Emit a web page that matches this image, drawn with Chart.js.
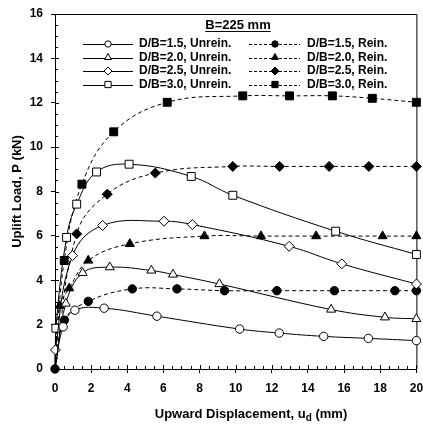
<!DOCTYPE html>
<html>
<head>
<meta charset="utf-8">
<script src="https://cdn.jsdelivr.net/npm/chart.js@4.4.0/dist/chart.umd.min.js"></script>
<style>
  body { margin: 0; background: #fff; }
  #wrap { width: 423px; height: 426px; position: relative; }
</style>
</head>
<body>
<div id="wrap"><canvas id="upliftChart"></canvas></div>
<script>
// [displacement mm, load kN]
const unrein15 = [[0,0],[0.45,1.9],[1.1,2.65],[2.72,2.74],[5.64,2.38],[10.22,1.80],[12.41,1.62],[14.87,1.47],[17.34,1.38],[20,1.28]];
const unrein20 = [[0,0],[0.6,2.95],[1.53,4.33],[3.03,4.59],[5.33,4.44],[6.53,4.26],[9.1,3.83],[15.28,2.68],[18.26,2.33],[20,2.26]];
const unrein25 = [[0,0],[0.02,0.86],[0.97,5.11],[2.63,6.47],[6.03,6.66],[7.6,6.51],[12.96,5.53],[15.87,4.74],[20,3.83]];
const unrein30 = [[0,0],[0.05,1.84],[0.64,5.93],[1.2,7.43],[2.3,8.88],[4.1,9.23],[7.54,8.68],[9.84,7.83],[15.53,6.21],[20,5.16]];
const rein15 = [[0,0],[0.52,2.2],[1.84,3.05],[4.28,3.61],[6.75,3.61],[9.38,3.53],[12.28,3.53],[15.46,3.53],[18.81,3.53],[20,3.53]];
const rein20 = [[0,0],[0.26,2.85],[0.79,3.64],[1.84,4.89],[4.14,5.64],[8.27,5.99],[11.4,5.99],[14.45,5.99],[18.13,5.99],[20,5.99]];
const rein25 = [[0,0],[1.2,6.09],[2.89,7.88],[5.55,8.83],[9.84,9.13],[12.43,9.13],[15.17,9.13],[17.37,9.13],[20,9.13]];
const rein30 = [[0,0],[0.51,4.89],[1.49,8.33],[3.25,10.69],[6.21,12.02],[10.39,12.31],[12.98,12.31],[15.35,12.31],[17.56,12.2],[20,12.02]];

const unreinLabels = ['D/B=1.5, Unrein.', 'D/B=2.0, Unrein.', 'D/B=2.5, Unrein.', 'D/B=3.0, Unrein.'];
const reinLabels = ['D/B=1.5, Rein.', 'D/B=2.0, Rein.', 'D/B=2.5, Rein.', 'D/B=3.0, Rein.'];
const markerStyles = ['circle', 'triangle', 'rectRot', 'rect'];
const markerSizes = [4.2, 5.2, 5, 5.6];

const xTickValues = [0, 2, 4, 6, 8, 10, 12, 14, 16, 18, 20];
const yTickValues = [0, 2, 4, 6, 8, 10, 12, 14, 16];

const titleText = 'B=225 mm';
const FONT = '"Liberation Sans", Arial, sans-serif';

function makeSet(points, i, reinforced) {
  return {
    label: reinforced ? reinLabels[i] : unreinLabels[i],
    data: points.map(p => ({ x: p[0], y: p[1] })),
    showLine: true,
    borderColor: '#000',
    borderWidth: 1,
    borderDash: reinforced ? [4, 3] : [],
    tension: 0.4,
    pointStyle: markerStyles[i],
    pointRadius: ctx => (ctx.dataIndex === 0 && !(reinforced && i === 0)) ? 0 : markerSizes[i],
    pointBackgroundColor: reinforced ? '#000' : '#fff',
    pointBorderColor: '#000',
    pointBorderWidth: 1,
    clip: false
  };
}

function drawMarker(ctx, style, x, y, r, filled) {
  ctx.save();
  ctx.beginPath();
  if (style === 'circle') {
    ctx.arc(x, y, r, 0, Math.PI * 2);
  } else if (style === 'triangle') {
    ctx.moveTo(x, y - r);
    ctx.lineTo(x + r * 0.866, y + r * 0.5);
    ctx.lineTo(x - r * 0.866, y + r * 0.5);
    ctx.closePath();
  } else if (style === 'rectRot') {
    ctx.moveTo(x, y - r);
    ctx.lineTo(x + r, y);
    ctx.lineTo(x, y + r);
    ctx.lineTo(x - r, y);
    ctx.closePath();
  } else {
    const s = r * Math.SQRT1_2;
    ctx.rect(x - s, y - s, 2 * s, 2 * s);
  }
  ctx.fillStyle = filled ? '#000' : '#fff';
  ctx.fill();
  ctx.strokeStyle = '#000';
  ctx.lineWidth = 1;
  ctx.stroke();
  ctx.restore();
}

const frameAndTicks = {
  id: 'frameAndTicks',
  beforeDatasetsDraw(chart) {
    const { ctx, chartArea: a, scales: { x, y } } = chart;
    ctx.save();
    ctx.strokeStyle = '#000';
    ctx.lineWidth = 1;
    ctx.beginPath();
    ctx.moveTo(a.left, a.top + 0.5);
    ctx.lineTo(a.right + 0.5, a.top + 0.5);
    ctx.lineTo(a.right + 0.5, a.bottom);
    // inside ticks on x axis
    for (let v = 0; v <= 20.001; v += 0.5) {
      const px = Math.round(x.getPixelForValue(v)) + 0.5;
      const major = Math.abs(v % 2) < 0.01;
      ctx.moveTo(px, a.bottom);
      ctx.lineTo(px, a.bottom - (major ? 4 : 3));
    }
    // inside ticks on y axis
    for (let v = 0; v <= 16.001; v += 0.5) {
      const py = Math.round(y.getPixelForValue(v)) + 0.5;
      const major = Math.abs(v % 2) < 0.01;
      ctx.moveTo(a.left, py);
      ctx.lineTo(a.left + (major ? 4 : 3), py);
    }
    ctx.stroke();
    ctx.restore();
  },
  afterDraw(chart) {
    const { ctx, chartArea: a } = chart;
    ctx.save();
    ctx.fillStyle = '#000';
    ctx.strokeStyle = '#000';

    // axis titles
    ctx.font = 'bold 13px ' + FONT;
    ctx.textBaseline = 'middle';
    const t1 = 'Upward Displacement, u';
    const t2 = ' (mm)';
    ctx.font = 'bold 13px ' + FONT;
    const w1 = ctx.measureText(t1).width;
    const w3 = ctx.measureText(t2).width;
    ctx.font = 'bold 10px ' + FONT;
    const w2 = ctx.measureText('d').width;
    const total = w1 + w2 + w3;
    let sx = 251 - total / 2;
    const ty = 414;
    ctx.textAlign = 'left';
    ctx.font = 'bold 13px ' + FONT;
    ctx.fillText(t1, sx, ty);
    ctx.font = 'bold 10px ' + FONT;
    ctx.fillText('d', sx + w1, ty + 4);
    ctx.font = 'bold 13px ' + FONT;
    ctx.fillText(t2, sx + w1 + w2, ty);

    ctx.save();
    ctx.translate(17, (a.top + a.bottom) / 2);
    ctx.rotate(-Math.PI / 2);
    ctx.textAlign = 'center';
    ctx.fillText('Uplift Load, P (kN)', 0, 0);
    ctx.restore();

    // legend title, underlined
    ctx.font = 'bold 13px ' + FONT;
    ctx.textAlign = 'center';
    const tw = ctx.measureText(titleText).width;
    ctx.fillText(titleText, 238, 25);
    ctx.lineWidth = 1;
    ctx.beginPath();
    ctx.moveTo(238 - tw / 2, 31.5);
    ctx.lineTo(238 + tw / 2, 31.5);
    ctx.stroke();

    // legend rows
    ctx.font = 'bold 12px ' + FONT;
    ctx.textAlign = 'left';
    const rowY = [44, 57.5, 71, 84.5];
    const legendR = [3.2, 4, 4, 4.4];
    for (let i = 0; i < 4; i++) {
      const yy = rowY[i];
      ctx.setLineDash([]);
      ctx.beginPath();
      ctx.moveTo(83, Math.round(yy) + 0.5);
      ctx.lineTo(133, Math.round(yy) + 0.5);
      ctx.stroke();
      drawMarker(ctx, markerStyles[i], 108, yy, legendR[i], false);
      ctx.fillStyle = '#000';
      ctx.fillText(unreinLabels[i], 139, yy);

      ctx.setLineDash([3, 2]);
      ctx.beginPath();
      ctx.moveTo(249, Math.round(yy) + 0.5);
      ctx.lineTo(300, Math.round(yy) + 0.5);
      ctx.stroke();
      ctx.setLineDash([]);
      drawMarker(ctx, markerStyles[i], 275, yy, legendR[i], true);
      ctx.fillStyle = '#000';
      ctx.fillText(reinLabels[i], 307, yy);
    }
    ctx.restore();
  }
};

new Chart(document.getElementById('upliftChart'), {
  type: 'scatter',
  data: {
    datasets: [
      makeSet(unrein15, 0, false),
      makeSet(unrein20, 1, false),
      makeSet(unrein25, 2, false),
      makeSet(unrein30, 3, false),
      makeSet(rein15, 0, true),
      makeSet(rein20, 1, true),
      makeSet(rein25, 2, true),
      makeSet(rein30, 3, true)
    ]
  },
  options: {
    responsive: true,
    maintainAspectRatio: false,
    animation: false,
    layout: { padding: { top: 14, right: 5, left: 0, bottom: 0 } },
    plugins: { legend: { display: false }, tooltip: { enabled: false } },
    scales: {
      x: {
        type: 'linear',
        min: 0, max: 20,
        afterBuildTicks: s => { s.ticks = xTickValues.map(v => ({ value: v })); },
        afterFit: s => { s.height = 57; s.paddingLeft = 0; s.paddingRight = 0; },
        ticks: { color: '#000', font: { family: FONT, size: 12, weight: 'bold' }, padding: 8, maxRotation: 0, autoSkip: false },
        grid: { drawOnChartArea: false, drawTicks: true, tickLength: 4, color: '#000' },
        border: { color: '#000', width: 1 }
      },
      y: {
        type: 'linear',
        min: 0, max: 16,
        afterBuildTicks: s => { s.ticks = yTickValues.map(v => ({ value: v })); },
        afterFit: s => { s.width = 55; s.paddingTop = 0; s.paddingBottom = 0; },
        ticks: { color: '#000', font: { family: FONT, size: 12, weight: 'bold' }, padding: 8, autoSkip: false },
        grid: { drawOnChartArea: false, drawTicks: true, tickLength: 4, color: '#000' },
        border: { color: '#000', width: 1 }
      }
    }
  },
  plugins: [frameAndTicks]
});
</script>
</body>
</html>
